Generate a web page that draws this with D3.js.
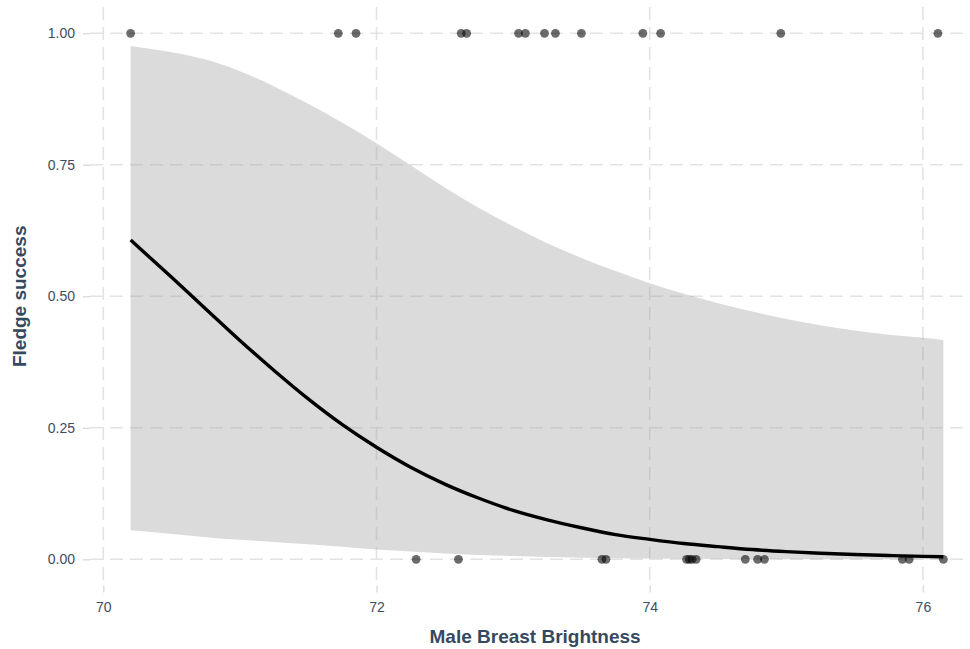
<!DOCTYPE html>
<html>
<head>
<meta charset="utf-8">
<script src="https://cdn.jsdelivr.net/npm/d3@7"></script>
<style>
  html, body { margin: 0; padding: 0; background: #ffffff; }
  svg { display: block; font-family: "Liberation Sans", Arial, sans-serif; }
</style>
</head>
<body>
<svg id="chart" width="970" height="649"></svg>
<script>
// Observed nests: male breast brightness and whether the nest fledged (1) or not (0)
const brightnessFledged = [70.20, 71.72, 71.85, 72.62, 72.66, 73.04, 73.09, 73.23, 73.31, 73.50, 73.95, 74.08, 74.96, 76.11];
const brightnessFailed  = [72.29, 72.60, 73.65, 73.68, 74.27, 74.29, 74.31, 74.34, 74.70, 74.79, 74.84, 75.85, 75.90, 76.15];

// Fitted logistic curve with its 95% confidence band
const fitX = [70.2, 70.5, 70.75, 71.0, 71.25, 71.5, 71.75, 72.0, 72.25, 72.5, 72.75, 73.0, 73.25,
              73.5, 73.75, 74.0, 74.25, 74.5, 74.75, 75.0, 75.25, 75.5, 75.75, 76.0, 76.15];
const fitProb = [0.607, 0.536, 0.476, 0.416, 0.359, 0.305, 0.256, 0.213, 0.175, 0.143, 0.116, 0.093, 0.075,
                 0.060, 0.047, 0.038, 0.030, 0.024, 0.0185, 0.0146, 0.0115, 0.0090, 0.0071, 0.0056, 0.0049];
const fitLower = [0.055, 0.048, 0.042, 0.037, 0.033, 0.0285, 0.0237, 0.0185, 0.0149, 0.0112, 0.0083, 0.0061, 0.0043,
                  0.0030, 0.0020, 0.0014, 0.0009, 0.0006, 0.0004, 0.00026, 0.00017, 0.00011, 0.00007, 0.00004, 0.00003];
const fitUpper = [0.976, 0.964, 0.950, 0.928, 0.899, 0.866, 0.830, 0.791, 0.749, 0.707, 0.668, 0.633, 0.601,
                  0.573, 0.548, 0.525, 0.505, 0.487, 0.471, 0.457, 0.445, 0.435, 0.427, 0.421, 0.417];

const xTicks = [70, 72, 74, 76];
const yTicks = [0, 0.25, 0.5, 0.75, 1];

const svg = d3.select("#chart");
const panel = { left: 90, right: 984, top: 7, bottom: 585.6 };

// Domains padded by 5% of the data range on each side
const xMin = d3.min([...brightnessFledged, ...brightnessFailed]);
const xMax = d3.max([...brightnessFledged, ...brightnessFailed]);
const xPad = (xMax - xMin) * 0.05;
const x = d3.scaleLinear().domain([xMin - xPad, xMax + xPad]).range([panel.left, panel.right]);
const y = d3.scaleLinear().domain([-0.05, 1.05]).range([panel.bottom, panel.top]);

const gridColor = "#e3e3e3";
const dash = "13,7";

// Gridlines
const grid = svg.append("g");
grid.selectAll(".gy").data(yTicks).join("line")
  .attr("x1", panel.left).attr("x2", panel.right)
  .attr("y1", d => y(d)).attr("y2", d => y(d))
  .attr("stroke", gridColor).attr("stroke-width", 1.6).attr("stroke-dasharray", dash);
grid.selectAll(".gx").data(xTicks).join("line")
  .attr("x1", d => x(d)).attr("x2", d => x(d))
  .attr("y1", panel.top).attr("y2", panel.bottom)
  .attr("stroke", gridColor).attr("stroke-width", 1.6).attr("stroke-dasharray", dash);

// Axes (ticks + labels, no domain line)
const tickColor = "#3d4d60";
const yAxis = svg.append("g")
  .attr("transform", `translate(${panel.left},0)`)
  .call(d3.axisLeft(y).tickValues(yTicks).tickFormat(d3.format(".2f")).tickSize(7).tickPadding(8));
const xAxis = svg.append("g")
  .attr("transform", `translate(0,${panel.bottom})`)
  .call(d3.axisBottom(x).tickValues(xTicks).tickFormat(d3.format("d")).tickSize(7).tickPadding(9));
[yAxis, xAxis].forEach(g => {
  g.select(".domain").remove();
  g.selectAll(".tick line").attr("stroke", "#dcdcdc").attr("stroke-width", 1.4);
  g.selectAll(".tick text").attr("fill", tickColor).style("font-size", "14px")
    .style("font-family", "'Liberation Sans', Arial, sans-serif");
});

// Confidence band
const band = fitX.map((v, i) => ({ x: v, lo: fitLower[i], hi: fitUpper[i] }));
svg.append("path")
  .datum(band)
  .attr("fill", "#999999").attr("fill-opacity", 0.35)
  .attr("d", d3.area().curve(d3.curveMonotoneX)
    .x(d => x(d.x)).y0(d => y(d.lo)).y1(d => y(d.hi)));

// Fitted probability curve
const fit = fitX.map((v, i) => ({ x: v, p: fitProb[i] }));
svg.append("path")
  .datum(fit)
  .attr("fill", "none").attr("stroke", "#000000").attr("stroke-width", 3.4)
  .attr("d", d3.line().curve(d3.curveMonotoneX).x(d => x(d.x)).y(d => y(d.p)));

// Observations
const obs = [
  ...brightnessFledged.map(v => ({ x: v, s: 1 })),
  ...brightnessFailed.map(v => ({ x: v, s: 0 }))
];
svg.append("g").selectAll("circle").data(obs).join("circle")
  .attr("cx", d => x(d.x)).attr("cy", d => y(d.s)).attr("r", 4.4)
  .attr("fill", "#000000").attr("fill-opacity", 0.58);

// Axis titles
const titleColor = "#34495e";
svg.append("text")
  .attr("x", (x(70) + x(76)) / 2 + 22).attr("y", 643)
  .attr("text-anchor", "middle").attr("fill", titleColor)
  .style("font-size", "19px").style("font-weight", "bold")
  .text("Male Breast Brightness");
svg.append("text")
  .attr("transform", `translate(26,${y(0.5)}) rotate(-90)`)
  .attr("text-anchor", "middle").attr("fill", titleColor)
  .style("font-size", "19px").style("font-weight", "bold")
  .text("Fledge success");
</script>
</body>
</html>
